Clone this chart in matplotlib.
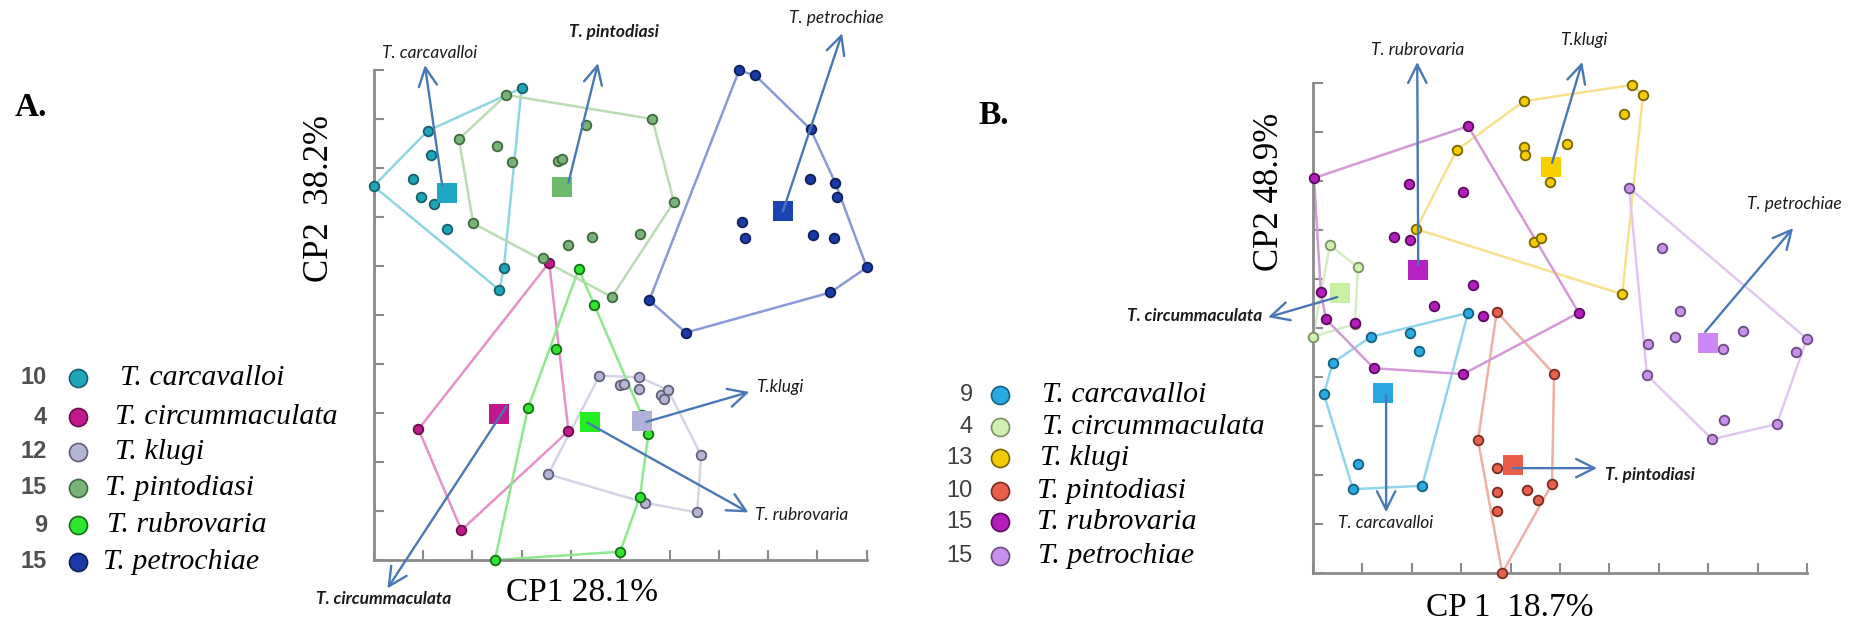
import numpy as np
import matplotlib
matplotlib.use("Agg")
import matplotlib.pyplot as plt

# -----------------------------
# 1. Data (PCA scores, axis units 0-10)
# -----------------------------
species = ["T. carcavalloi", "T. circummaculata", "T. klugi",
           "T. pintodiasi", "T. rubrovaria", "T. petrochiae"]

a_counts = [10, 4, 12, 15, 9, 15]
b_counts = [9, 4, 13, 10, 15, 15]

# panel A
a_carcavalloi_x = [0.00, 1.10, 1.17, 0.80, 0.97, 1.22, 1.48, 3.00, 2.64, 2.55]
a_carcavalloi_y = [7.63, 8.76, 8.26, 7.77, 7.41, 7.26, 6.75, 9.63, 5.95, 5.51]
a_circummaculata_x = [3.56, 0.91, 3.95, 1.78]
a_circummaculata_y = [6.07, 2.67, 2.63, 0.61]
a_klugi_x = [4.58, 5.00, 5.08, 5.39, 5.39, 5.82, 5.97, 5.88, 6.64, 3.54, 5.50, 6.56]
a_klugi_y = [3.76, 3.57, 3.59, 3.73, 3.49, 3.37, 3.47, 3.28, 2.14, 1.75, 1.17, 0.97]
a_pintodiasi_x = [2.69, 1.73, 2.50, 2.80, 4.31, 5.65, 3.74, 3.83, 6.09, 2.02,
                  3.95, 4.43, 5.40, 3.43, 4.83]
a_pintodiasi_y = [9.49, 8.59, 8.44, 8.13, 8.88, 9.00, 8.15, 8.18, 7.31, 6.87,
                  6.43, 6.60, 6.65, 6.16, 5.37]
a_rubrovaria_x = [4.16, 4.47, 3.70, 3.13, 5.44, 5.57, 5.40, 5.00, 2.46]
a_rubrovaria_y = [5.94, 5.20, 4.30, 3.10, 2.95, 2.57, 1.29, 0.17, 0.00]
a_petrochiae_x = [7.41, 7.74, 8.86, 8.85, 9.36, 9.39, 7.47, 7.54, 8.91, 9.33,
                  10.0, 9.26, 5.59, 6.33]
a_petrochiae_y = [9.99, 9.89, 8.79, 7.78, 7.70, 7.41, 6.90, 6.58, 6.63, 6.58,
                  5.97, 5.46, 5.30, 4.64]
a_centroid_x = [1.49, 2.55, 5.44, 3.82, 4.39, 8.31]
a_centroid_y = [7.50, 2.97, 2.84, 7.61, 2.82, 7.12]

# panel B
b_carcavalloi_x = [1.17, 0.40, 0.22, 0.91, 0.81, 1.96, 3.14, 2.15, 2.21]
b_carcavalloi_y = [4.82, 4.29, 3.65, 2.22, 1.71, 4.90, 5.31, 4.53, 1.78]
b_circummaculata_x = [0.34, 0.91, 0.85, 0.00]
b_circummaculata_y = [6.69, 6.24, 5.08, 4.82]
b_klugi_x = [4.27, 6.46, 6.68, 6.30, 2.91, 4.27, 4.29, 5.14, 4.80, 2.09, 4.47, 4.62, 6.26]
b_klugi_y = [9.63, 9.96, 9.76, 9.37, 8.63, 8.69, 8.53, 8.76, 7.98, 7.02, 6.76, 6.84, 5.69]
b_pintodiasi_x = [3.72, 4.88, 3.34, 3.72, 4.84, 3.72, 4.33, 4.55, 3.72, 3.83]
b_pintodiasi_y = [5.33, 4.06, 2.71, 2.14, 1.82, 1.65, 1.69, 1.49, 1.27, 0.00]
b_rubrovaria_x = [0.02, 0.16, 0.26, 0.85, 1.23, 3.04, 5.38, 3.14, 1.94, 3.04,
                  1.64, 1.96, 3.24, 2.45, 3.44]
b_rubrovaria_y = [8.06, 5.73, 5.18, 5.10, 4.18, 4.06, 5.31, 9.12, 7.94, 7.78,
                  6.86, 6.80, 5.88, 5.45, 5.24]
b_petrochiae_x = [6.40, 7.06, 7.43, 7.33, 6.78, 8.70, 8.30, 10.0, 9.78, 6.76,
                  8.32, 9.39, 8.08]
b_petrochiae_y = [7.86, 6.63, 5.35, 4.82, 4.67, 4.94, 4.57, 4.78, 4.51, 4.04,
                  3.12, 3.04, 2.73]
b_centroid_x = [1.42, 0.55, 4.82, 4.05, 2.13, 8.00]
b_centroid_y = [3.67, 5.71, 8.29, 2.20, 6.18, 4.69]

# -----------------------------
# 2. Styles
# -----------------------------
a_face = ["#1fa5b8", "#c01a8c", "#b4b4d4", "#78b478", "#2ee62e", "#1a3aa8"]
a_edge = ["#16606a", "#6a0d4c", "#606078", "#3e6a3e", "#157015", "#0d1e58"]
a_hull = ["#8fd6e0", "#e890c8", "#d4d4e6", "#bcdcb4", "#8ee88e", "#8a9ad8"]
a_square = ["#1ea8c4", "#c0188c", "#b0b0d8", "#6cbc6c", "#22ee22", "#1a44b4"]

b_face = ["#2aaae2", "#d0f0b0", "#f2cc00", "#e8604c", "#b41cbc", "#c890ec"]
b_edge = ["#14607e", "#7a9060", "#7a6400", "#7a2c22", "#5c0a60", "#6c4a80"]
b_hull = ["#92d4ec", "#d8ecc4", "#f6e28e", "#f0b0a6", "#d49ad8", "#e0c8f0"]
b_square = ["#29a6e0", "#c8f0a0", "#f8d000", "#e85c4a", "#b422c4", "#cc88f4"]

ARROW = "#4a78b5"
SERIF = "Liberation Serif"
SANS_IT = "Lato"

W, H = 1867, 627


def convex_hull(xs, ys):
    pts = sorted(set(zip(xs, ys)))
    if len(pts) < 3:
        return pts

    def cross(o, a, b):
        return (a[0] - o[0]) * (b[1] - o[1]) - (a[1] - o[1]) * (b[0] - o[0])

    lower, upper = [], []
    for p in pts:
        while len(lower) >= 2 and cross(lower[-2], lower[-1], p) <= 0:
            lower.pop()
        lower.append(p)
    for p in reversed(pts):
        while len(upper) >= 2 and cross(upper[-2], upper[-1], p) <= 0:
            upper.pop()
        upper.append(p)
    return lower[:-1] + upper[:-1]


def draw_panel(ax, xs_list, ys_list, cx, cy, face, edge, hull_c, square_c):
    for i in range(len(xs_list)):
        hull = convex_hull(xs_list[i], ys_list[i])
        hx = [p[0] for p in hull] + [hull[0][0]]
        hy = [p[1] for p in hull] + [hull[0][1]]
        ax.plot(hx, hy, color=hull_c[i], lw=1.8, zorder=2, clip_on=False)
    for i in range(len(xs_list)):
        ax.scatter(xs_list[i], ys_list[i], s=48, c=face[i], edgecolors=edge[i],
                   linewidths=1.3, zorder=3, clip_on=False)
    for i in range(len(cx)):
        ax.scatter([cx[i]], [cy[i]], marker="s", s=190, c=square_c[i],
                   linewidths=0, zorder=4, clip_on=False)
    ax.set_xlim(0, 10)
    ax.set_ylim(0, 10)
    ax.set_xticks(range(11))
    ax.set_yticks(range(11))
    ax.tick_params(direction="in", length=7, width=1.5, colors="#8a8a8a",
                   labelleft=False, labelbottom=False)
    for s in ["top", "right"]:
        ax.spines[s].set_visible(False)
    for s in ["left", "bottom"]:
        ax.spines[s].set_color("#8a8a8a")
        ax.spines[s].set_linewidth(2)
    ax.patch.set_alpha(0)


def arrow(ax, tail, head, label, lpos, ha="center", bold=False):
    ax.annotate("", xy=head, xytext=tail, annotation_clip=False, zorder=6,
                arrowprops=dict(arrowstyle="->,head_length=0.6,head_width=0.3",
                                color=ARROW, lw=1.7, shrinkA=0, shrinkB=0,
                                mutation_scale=22))
    ax.text(lpos[0], lpos[1], label, ha=ha, va="center", fontsize=12.5,
            style="italic", weight="bold" if bold else "normal",
            family=SANS_IT, color="#1a1a1a", clip_on=False, zorder=6)


# -----------------------------
# 3. Figure
# -----------------------------
fig = plt.figure(figsize=(W / 100, H / 100), dpi=100)
axA = fig.add_axes([373.6 / W, 1 - 560 / H, 493.2 / W, 490 / H])
axB = fig.add_axes([1313 / W, 1 - 573 / H, 494 / W, 490 / H])

draw_panel(axA,
           [a_carcavalloi_x, a_circummaculata_x, a_klugi_x, a_pintodiasi_x,
            a_rubrovaria_x, a_petrochiae_x],
           [a_carcavalloi_y, a_circummaculata_y, a_klugi_y, a_pintodiasi_y,
            a_rubrovaria_y, a_petrochiae_y],
           a_centroid_x, a_centroid_y, a_face, a_edge, a_hull, a_square)

draw_panel(axB,
           [b_carcavalloi_x, b_circummaculata_x, b_klugi_x, b_pintodiasi_x,
            b_rubrovaria_x, b_petrochiae_x],
           [b_carcavalloi_y, b_circummaculata_y, b_klugi_y, b_pintodiasi_y,
            b_rubrovaria_y, b_petrochiae_y],
           b_centroid_x, b_centroid_y, b_face, b_edge, b_hull, b_square)

# arrows panel A
arrow(axA, (1.39, 7.65), (1.04, 10.10), "T. carcavalloi", (1.13, 10.35))
arrow(axA, (3.95, 7.70), (4.55, 10.14), "T. pintodiasi", (4.87, 10.78), bold=True)
arrow(axA, (8.30, 7.12), (9.50, 10.75), "T. petrochiae", (9.38, 11.06))
arrow(axA, (5.53, 2.82), (7.62, 3.43), "T.klugi", (7.75, 3.54), ha="left")
arrow(axA, (4.34, 2.80), (7.60, 0.97), "T. rubrovaria", (7.74, 0.92), ha="left")
arrow(axA, (2.69, 3.13), (0.28, -0.58), "T. circummaculata", (0.21, -0.80), bold=True)

# arrows panel B
arrow(axB, (2.13, 6.29), (2.11, 10.43), "T. rubrovaria", (2.11, 10.67))
arrow(axB, (4.84, 8.37), (5.45, 10.43), "T.klugi", (5.49, 10.88))
arrow(axB, (7.94, 4.92), (9.72, 7.04), "T. petrochiae", (9.74, 7.53))
arrow(axB, (0.49, 5.63), (-0.91, 5.22), "T. circummaculata", (-1.03, 5.24),
      ha="right", bold=True)
arrow(axB, (1.48, 3.63), (1.48, 1.24), "T. carcavalloi", (1.48, 1.02))
arrow(axB, (4.05, 2.14), (5.75, 2.14), "T. pintodiasi", (5.91, 2.00),
      ha="left", bold=True)

# overlay in pixel coordinates for labels and legends
ov = fig.add_axes([0, 0, 1, 1])
ov.set_xlim(0, W)
ov.set_ylim(H, 0)
ov.axis("off")

ov.text(15, 107, "A.", fontsize=24, family=SERIF, weight="bold", ha="left", va="center")
ov.text(978, 115, "B.", fontsize=24, family=SERIF, weight="bold", ha="left", va="center")
ov.text(582, 593, "CP1 28.1%", fontsize=24, family=SERIF, ha="center", va="center")
ov.text(320, 198, "CP2  38.2%", fontsize=25, family=SERIF, ha="center",
        va="center", rotation=90)
ov.text(1510, 608, "CP 1  18.7%", fontsize=24, family=SERIF, ha="center", va="center")
ov.text(1270, 192, "CP2 48.9%", fontsize=25, family=SERIF, ha="center",
        va="center", rotation=90)

# legends
a_rows = [378, 417, 452, 488, 525, 562]
a_name_x = [120, 115, 115, 105, 107, 103]
b_rows = [395, 427, 458, 491, 522, 556]
b_name_x = [1042, 1042, 1040, 1037, 1037, 1038]

for i in range(6):
    ov.text(47, a_rows[i], str(a_counts[i]), fontsize=17, family="Liberation Sans",
            weight="bold", color="#505050", ha="right", va="center")
    ov.plot([78], [a_rows[i]], "o", ms=13, mfc=a_face[i], mec=a_edge[i], mew=1.2)
    ov.text(a_name_x[i], a_rows[i], species[i], fontsize=21.5, family=SERIF,
            style="italic", ha="left", va="center")

    ov.text(973, b_rows[i], str(b_counts[i]), fontsize=17, family="Liberation Sans",
            color="#404040", ha="right", va="center")
    ov.plot([1000], [b_rows[i]], "o", ms=13, mfc=b_face[i], mec=b_edge[i], mew=1.2)
    ov.text(b_name_x[i], b_rows[i], species[i], fontsize=21.5, family=SERIF,
            style="italic", ha="left", va="center")

fig.savefig("out.png", dpi=100, facecolor="white")
